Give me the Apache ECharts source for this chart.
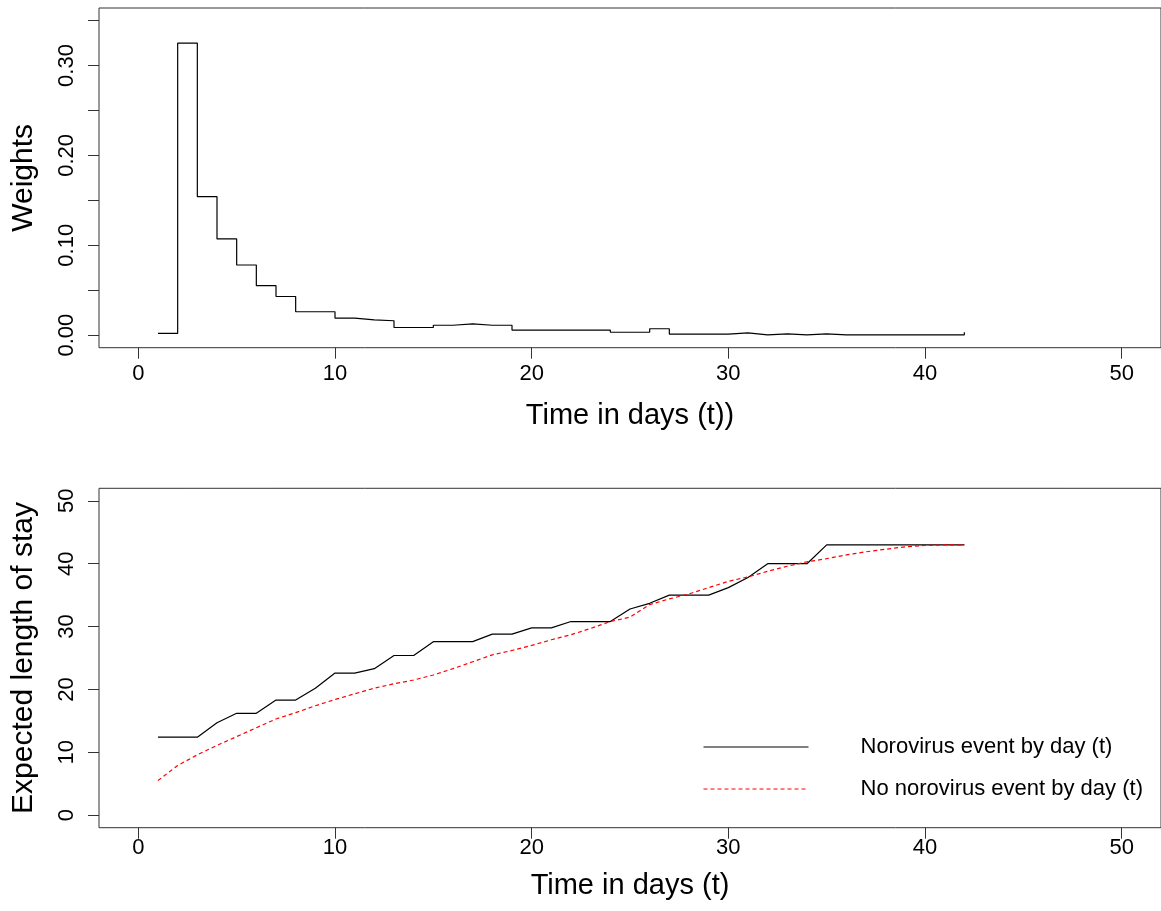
<!DOCTYPE html>
<html>
<head>
<meta charset="utf-8">
<script src="https://cdn.jsdelivr.net/npm/echarts@6/dist/echarts.min.js"></script>
<style>
html,body{margin:0;padding:0;background:#fff;}
#chart{width:1161px;height:911px;}
</style>
</head>
<body>
<div id="chart"></div>
<script>
// ---- data ----
const days = [1,2,3,4,5,6,7,8,9,10,11,12,13,14,15,16,17,18,19,20,21,22,23,24,25,26,27,28,29,30,31,32,33,34,35,36,37,38,39,40,41,42];
const weights = [0.002,0.325,0.154,0.107,0.078,0.055,0.043,0.026,0.026,0.019,0.017,0.016,0.0085,0.0085,0.011,0.0126,0.011,0.011,0.0056,0.0056,0.0056,0.0056,0.0056,0.0032,0.0032,0.0071,0.001,0.001,0.001,0.0025,0.0003,0.0013,0.0003,0.0013,0.0003,0.0003,0.0003,0.0003,0.0003,0.0003,0.0003,0.0032];
const losNoro = [12.4,12.4,12.4,14.7,16.2,16.2,18.3,18.3,20.2,22.6,22.6,23.3,25.4,25.4,27.6,27.6,27.6,28.8,28.8,29.8,29.8,30.8,30.8,30.8,32.8,33.7,35.0,35.0,35.0,36.2,37.8,40.0,40.0,40.0,43.0,43.0,43.0,43.0,43.0,43.0,43.0,43.0];
const losNoNoro = [5.5,7.9,9.6,11.1,12.5,13.9,15.3,16.3,17.4,18.4,19.3,20.2,20.9,21.5,22.3,23.3,24.4,25.5,26.2,27.0,27.9,28.7,29.7,30.8,31.5,33.5,34.4,35.2,36.2,37.2,37.9,38.8,39.6,40.3,40.8,41.4,41.9,42.3,42.7,42.9,43.0,43.0];
const xTicks = [0,10,20,30,40,50];
const wTicks = [0,0.05,0.10,0.15,0.20,0.25,0.30,0.35];
const wLabels = [0,0.10,0.20,0.30];
const losTicks = [0,10,20,30,40,50];
const seriesNames = ['Norovirus event by day (t)','No norovirus event by day (t)'];
const xTitleTop = 'Time in days (t))';
const xTitleBottom = 'Time in days (t)';
const yTitleTop = 'Weights';
const yTitleBottom = 'Expected length of stay';

const pair = (xs, ys) => xs.map((x, i) => [x, ys[i]]);

const FONT = '"Liberation Sans", Arial, sans-serif';
const AX = '#333';

function xAxisCfg(gridIndex, title, labelMargin, nameGap) {
  return {
    type: 'value', gridIndex: gridIndex, min: -2, max: 52,
    splitLine: {show: false},
    axisLine: {show: false, onZero: false},
    axisTick: {show: true, inside: false, length: 11, customValues: xTicks, lineStyle: {color: AX, width: 1}},
    axisLabel: {show: true, customValues: xTicks, margin: labelMargin, color: '#000', fontSize: 22, fontFamily: FONT},
    name: title, nameLocation: 'middle', nameGap: nameGap,
    nameTextStyle: {color: '#000', fontSize: 29, fontFamily: FONT}
  };
}

const option = {
  animation: false,
  backgroundColor: '#fff',
  grid: [
    {left: 99, top: 8, width: 1068.6, height: 339.7, show: true, borderColor: AX, borderWidth: 1, backgroundColor: 'transparent', containLabel: false},
    {left: 99, top: 488.3, width: 1068.6, height: 339.4, show: true, borderColor: AX, borderWidth: 1, backgroundColor: 'transparent', containLabel: false}
  ],
  xAxis: [xAxisCfg(0, xTitleTop, 15, 54), xAxisCfg(1, xTitleBottom, 9, 44)],
  yAxis: [
    {
      type: 'value', gridIndex: 0, min: -0.014, max: 0.364,
      splitLine: {show: false}, axisLine: {show: false, onZero: false},
      axisTick: {show: true, inside: false, length: 11, customValues: wTicks, lineStyle: {color: AX, width: 1}},
      axisLabel: {show: true, customValues: wLabels, rotate: 90, margin: 21, color: '#000', fontSize: 22, fontFamily: FONT,
        formatter: v => v.toFixed(2)},
      name: yTitleTop, nameLocation: 'middle', nameGap: 60,
      nameTextStyle: {color: '#000', fontSize: 30, fontFamily: FONT}
    },
    {
      type: 'value', gridIndex: 1, min: -2, max: 52,
      splitLine: {show: false}, axisLine: {show: false, onZero: false},
      axisTick: {show: true, inside: false, length: 11, customValues: losTicks, lineStyle: {color: AX, width: 1}},
      axisLabel: {show: true, customValues: losTicks, rotate: 90, margin: 21, color: '#000', fontSize: 22, fontFamily: FONT},
      name: yTitleBottom, nameLocation: 'middle', nameGap: 60,
      nameTextStyle: {color: '#000', fontSize: 30, fontFamily: FONT}
    }
  ],
  legend: {
    orient: 'vertical', left: 698, top: 731, itemWidth: 105, itemHeight: 14, itemGap: 20,
    itemStyle: {opacity: 0},
    lineStyle: {width: 1},
    textStyle: {color: '#000', fontSize: 22, fontFamily: FONT, padding: [0, 0, 0, 47]},
    data: seriesNames,
    selectedMode: false
  },
  series: [
    {
      type: 'line', name: 'weights', xAxisIndex: 0, yAxisIndex: 0, step: 'end',
      data: pair(days, weights), symbol: 'none',
      lineStyle: {color: '#000', width: 1.2}, silent: true
    },
    {
      type: 'line', name: seriesNames[0], xAxisIndex: 1, yAxisIndex: 1,
      data: pair(days, losNoro), symbol: 'none', color: '#000',
      lineStyle: {color: '#000', width: 1.2}, silent: true
    },
    {
      type: 'line', name: seriesNames[1], xAxisIndex: 1, yAxisIndex: 1,
      data: pair(days, losNoNoro), symbol: 'none', color: '#ff0000',
      lineStyle: {color: '#ff0000', width: 1.2, type: [4, 3]}, silent: true
    }
  ]
};

const chart = echarts.init(document.getElementById('chart'), null, {renderer: 'canvas'});
chart.setOption(option);
</script>
</body>
</html>
